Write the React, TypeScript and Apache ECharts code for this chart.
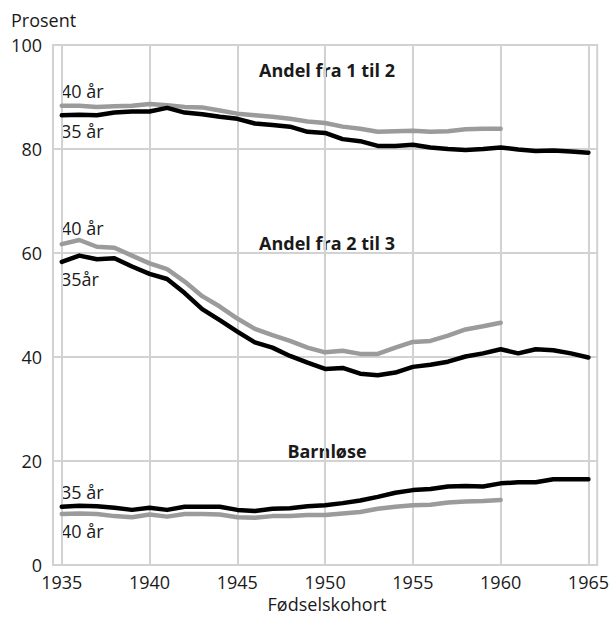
import React, { useEffect, useRef } from "react";
import * as echarts from "echarts";

const years = [
  1935, 1936, 1937, 1938, 1939, 1940, 1941, 1942, 1943, 1944, 1945, 1946, 1947, 1948, 1949, 1950,
  1951, 1952, 1953, 1954, 1955, 1956, 1957, 1958, 1959, 1960, 1961, 1962, 1963, 1964, 1965,
];
const xTickLabels = [1935, 1940, 1945, 1950, 1955, 1960, 1965];

// Andel fra 1 til 2
const oneToTwo35 = [
  86.5, 86.6, 86.5, 87.0, 87.2, 87.2, 87.9, 87.0, 86.7, 86.2, 85.8, 84.9, 84.6, 84.3, 83.3, 83.1,
  81.9, 81.5, 80.6, 80.6, 80.8, 80.3, 80.0, 79.8, 80.0, 80.3, 79.9, 79.6, 79.7, 79.5, 79.3,
];
const oneToTwo40 = [
  88.3, 88.3, 88.1, 88.2, 88.3, 88.65, 88.4, 88.1, 88.0, 87.4, 86.8, 86.5, 86.2, 85.8, 85.3, 85.0,
  84.3, 83.9, 83.3, 83.4, 83.5, 83.3, 83.4, 83.8, 83.9, 83.9,
];

// Andel fra 2 til 3
const twoToThree35 = [
  58.3, 59.5, 58.8, 59.0, 57.4, 56.0, 55.0, 52.3, 49.2, 47.1, 44.9, 42.8, 41.8, 40.2, 38.9, 37.7,
  37.9, 36.8, 36.5, 37.0, 38.1, 38.5, 39.1, 40.1, 40.7, 41.5, 40.7, 41.5, 41.3, 40.7, 39.9,
];
const twoToThree40 = [
  61.7, 62.5, 61.2, 61.0, 59.5, 58.0, 56.9, 54.5, 51.7, 49.7, 47.4, 45.4, 44.2, 43.1, 41.8, 40.9,
  41.2, 40.6, 40.6, 41.8, 42.9, 43.1, 44.1, 45.3, 45.9, 46.6,
];

// Barnløse
const childless35 = [
  11.2, 11.4, 11.3, 11.0, 10.6, 11.0, 10.6, 11.2, 11.2, 11.2, 10.6, 10.4, 10.8, 10.9, 11.3, 11.5,
  11.9, 12.4, 13.1, 13.9, 14.4, 14.6, 15.1, 15.2, 15.1, 15.7, 15.9, 15.9, 16.5, 16.5, 16.5,
];
const childless40 = [
  9.8, 9.9, 9.8, 9.4, 9.2, 9.7, 9.3, 9.8, 9.8, 9.7, 9.2, 9.1, 9.4, 9.4, 9.6, 9.6,
  9.9, 10.2, 10.8, 11.2, 11.5, 11.6, 12.0, 12.2, 12.3, 12.5,
];

const FONT = "'Open Sans', 'Noto Sans', sans-serif";
const GRID_COLOR = "#d2d2d2";
const BLACK = "#000000";
const GREY = "#9b9b9b";
const TEXT = "#1a1a1a";

function pairs(vals: number[]) {
  return vals.map((v, i) => [years[i], v]);
}

export default function App() {
  const ref = useRef<HTMLDivElement>(null);
  useEffect(() => {
    if (!ref.current) return;
    const chart = echarts.init(ref.current, undefined, { renderer: "svg" });
    const lineSeries = (name: string, vals: number[], color: string, z: number) => ({
      name,
      type: "line",
      data: pairs(vals),
      symbol: "none",
      showSymbol: false,
      z,
      lineStyle: { color, width: 4.5, cap: "round", join: "round" },
    });
    const txt = (text: string, x: number, y: number, align: string, bold = false) => ({
      type: "text",
      x,
      y,
      style: {
        text,
        fill: TEXT,
        font: `${bold ? "bold " : ""}18px ${FONT}`,
        textAlign: align,
        textVerticalAlign: "middle",
      },
    });
    chart.setOption({
      animation: false,
      grid: {
        left: 53,
        right: 14,
        top: 45,
        bottom: 52,
        show: true,
        borderColor: GRID_COLOR,
        borderWidth: 2,
        backgroundColor: "transparent",
      },
      xAxis: {
        type: "value",
        min: 1934.5,
        max: 1965.5,
        axisLine: { show: false },
        axisTick: { show: false },
        splitLine: { show: false },
        axisLabel: {
          customValues: xTickLabels,
          formatter: (v: number) => String(v),
          color: TEXT,
          fontSize: 18,
          fontFamily: FONT,
          margin: 8,
          showMinLabel: true,
          showMaxLabel: true,
          hideOverlap: false,
        },
      },
      yAxis: {
        type: "value",
        min: 0,
        max: 100,
        interval: 20,
        axisLine: { show: false },
        axisTick: { show: false },
        splitLine: { show: true, lineStyle: { color: GRID_COLOR, width: 2 } },
        axisLabel: {
          color: TEXT,
          fontSize: 18,
          fontFamily: FONT,
          margin: 11,
          padding: [7, 0, 0, 0],
        },
      },
      series: [
        {
          ...lineSeries("Andel fra 1 til 2, 40 år", oneToTwo40, GREY, 2),
          markLine: {
            silent: true,
            symbol: "none",
            label: { show: false },
            lineStyle: { color: GRID_COLOR, width: 2, type: "solid" },
            data: xTickLabels.map((v) => ({ xAxis: v })),
            z: 1,
          },
        },
        lineSeries("Andel fra 1 til 2, 35 år", oneToTwo35, BLACK, 3),
        lineSeries("Andel fra 2 til 3, 40 år", twoToThree40, GREY, 2),
        lineSeries("Andel fra 2 til 3, 35 år", twoToThree35, BLACK, 3),
        lineSeries("Barnløse, 40 år", childless40, GREY, 2),
        lineSeries("Barnløse, 35 år", childless35, BLACK, 3),
      ],
      graphic: [
        txt("Prosent", 11, 20, "left"),
        txt("Andel fra 1 til 2", 327, 70, "center", true),
        txt("40 år", 61, 91, "left"),
        txt("35 år", 61, 131, "left"),
        txt("40 år", 61, 228, "left"),
        txt("Andel fra 2 til 3", 327, 243, "center", true),
        txt("35år", 61, 279, "left"),
        txt("Barnløse", 327, 451, "center", true),
        txt("35 år", 61, 492, "left"),
        txt("40 år", 61, 531, "left"),
        txt("Fødselskohort", 327, 604, "center"),
      ],
    });
    return () => chart.dispose();
  }, []);
  return (
    <div
      ref={ref}
      style={{ position: "absolute", left: 0, top: 0, width: 612, height: 617 }}
    />
  );
}
